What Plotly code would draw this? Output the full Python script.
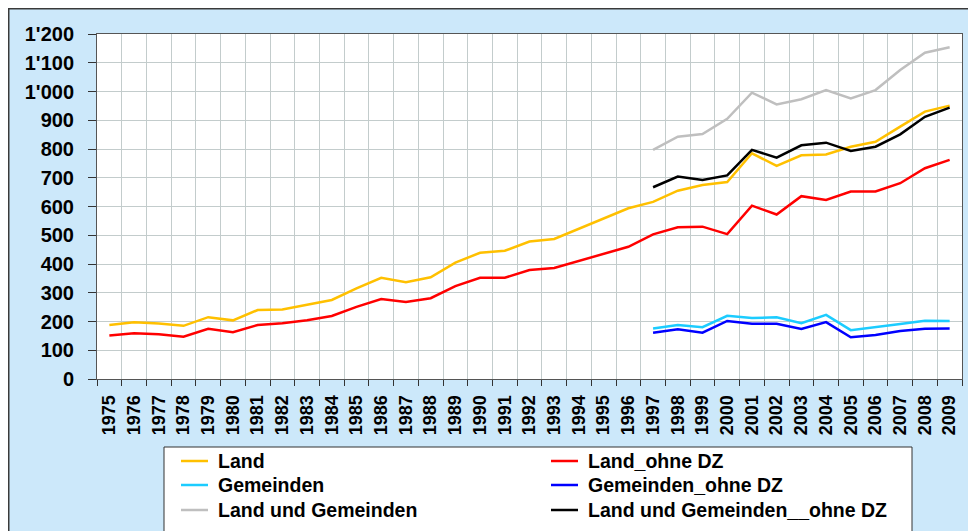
import plotly.graph_objects as go

years = [str(y) for y in range(1975, 2010)]
years_late = [str(y) for y in range(1997, 2010)]

land = [188, 197, 193, 185, 215, 204, 240, 242, 258, 275, 315, 352, 337, 354, 405, 439, 446,
        478, 487, 522, 559, 594, 616, 655, 675, 685, 785, 741, 778, 781, 808, 825, 878, 930, 951]
land_ohne = [151, 159, 156, 147, 175, 163, 188, 194, 204, 219, 251, 278, 268, 281, 323, 352, 352,
             379, 386, 411, 437, 460, 503, 528, 530, 504, 603, 572, 636, 623, 652, 652, 681, 733, 762]
gemeinden = [176, 188, 180, 220, 212, 215, 194, 223, 170, 180, 191, 203, 202]
gemeinden_ohne = [161, 173, 161, 202, 192, 192, 174, 198, 145, 153, 167, 175, 176]
land_gem = [797, 843, 852, 905, 996, 955, 973, 1005, 976, 1005, 1075, 1135, 1154]
land_gem_ohne = [667, 704, 692, 708, 797, 770, 813, 822, 793, 808, 851, 912, 944]

y_ticks = [0, 100, 200, 300, 400, 500, 600, 700, 800, 900, 1000, 1100, 1200]
y_ticktext = ["0", "100", "200", "300", "400", "500", "600", "700", "800", "900",
              "1'000", "1'100", "1'200"]

series = [
    ("Land", years, land, "#FFC000"),
    ("Land_ohne DZ", years, land_ohne, "#FF0000"),
    ("Gemeinden", years_late, gemeinden, "#1CCCFF"),
    ("Gemeinden_ohne DZ", years_late, gemeinden_ohne, "#0000FF"),
    ("Land und Gemeinden", years_late, land_gem, "#BFBFBF"),
    ("Land und Gemeinden__ohne DZ", years_late, land_gem_ohne, "#000000"),
]

FONT = "Arial, Liberation Sans, sans-serif"
W, H = 968, 523
ML, MR, MT, MB = 89, 14, 26, 152
PW, PH = W - ML - MR, H - MT - MB


def px(xp):
    return (xp - ML) / PW


def py(yp):
    return (H - MB - yp) / PH


fig = go.Figure()
for name, xs, ys, col in series:
    fig.add_trace(go.Scatter(x=xs, y=ys, name=name, mode="lines",
                             line=dict(color=col, width=2.5), showlegend=False))

shapes = [
    # outer frame (left/top edges visible)
    dict(type="rect", xref="paper", yref="paper",
         x0=px(0.75), x1=px(W + 10), y0=py(H + 10), y1=py(0.75),
         line=dict(color="#3A3A3A", width=1.5), fillcolor="rgba(0,0,0,0)", layer="below"),
    # legend box
    dict(type="rect", xref="paper", yref="paper",
         x0=px(156), x1=px(904), y0=py(H + 10), y1=py(439),
         line=dict(color="#333333", width=1), fillcolor="white", layer="above"),
]
annotations = []
col_x = [173, 543]
row_y = [453, 477, 502]
for i, (name, xs, ys, col) in enumerate(series):
    cx = col_x[i % 2]
    ry = row_y[i // 2]
    shapes.append(dict(type="line", xref="paper", yref="paper",
                       x0=px(cx), x1=px(cx + 27), y0=py(ry), y1=py(ry),
                       line=dict(color=col, width=2.5), layer="above"))
    annotations.append(dict(text=name, xref="paper", yref="paper",
                            x=px(cx + 35), y=py(ry), xanchor="left", yanchor="middle",
                            showarrow=False,
                            font=dict(size=19.5, family=FONT, color="black", weight="bold")))

fig.update_layout(
    width=W, height=H,
    margin=dict(l=ML, r=MR, t=MT, b=MB, autoexpand=False),
    paper_bgcolor="#CCE8FA",
    plot_bgcolor="white",
    font=dict(family=FONT, color="black"),
    showlegend=False,
    shapes=shapes,
    annotations=annotations,
)

fig.update_xaxes(type="category", categoryorder="array", categoryarray=years,
                 tickson="boundaries", ticks="outside", ticklen=6, tickcolor="#333333",
                 showgrid=True, gridcolor="#C3CCCC", gridwidth=1,
                 showline=True, linecolor="#555555", linewidth=1, mirror=True,
                 tickangle=-90, tickfont=dict(size=18, family=FONT, weight="bold"),
                 ticklabelstandoff=8, automargin=False,
                 range=[-0.5, 34.5])
fig.update_yaxes(range=[0, 1200], tickvals=y_ticks, ticktext=y_ticktext,
                 ticks="outside", ticklen=8, tickcolor="#333333",
                 showgrid=True, gridcolor="#C3CCCC", gridwidth=1,
                 showline=True, linecolor="#555555", linewidth=1, mirror=True,
                 zeroline=False, automargin=False, ticklabelstandoff=10,
                 tickfont=dict(size=20, family=FONT, weight="bold"))

fig.write_html("out.html")
